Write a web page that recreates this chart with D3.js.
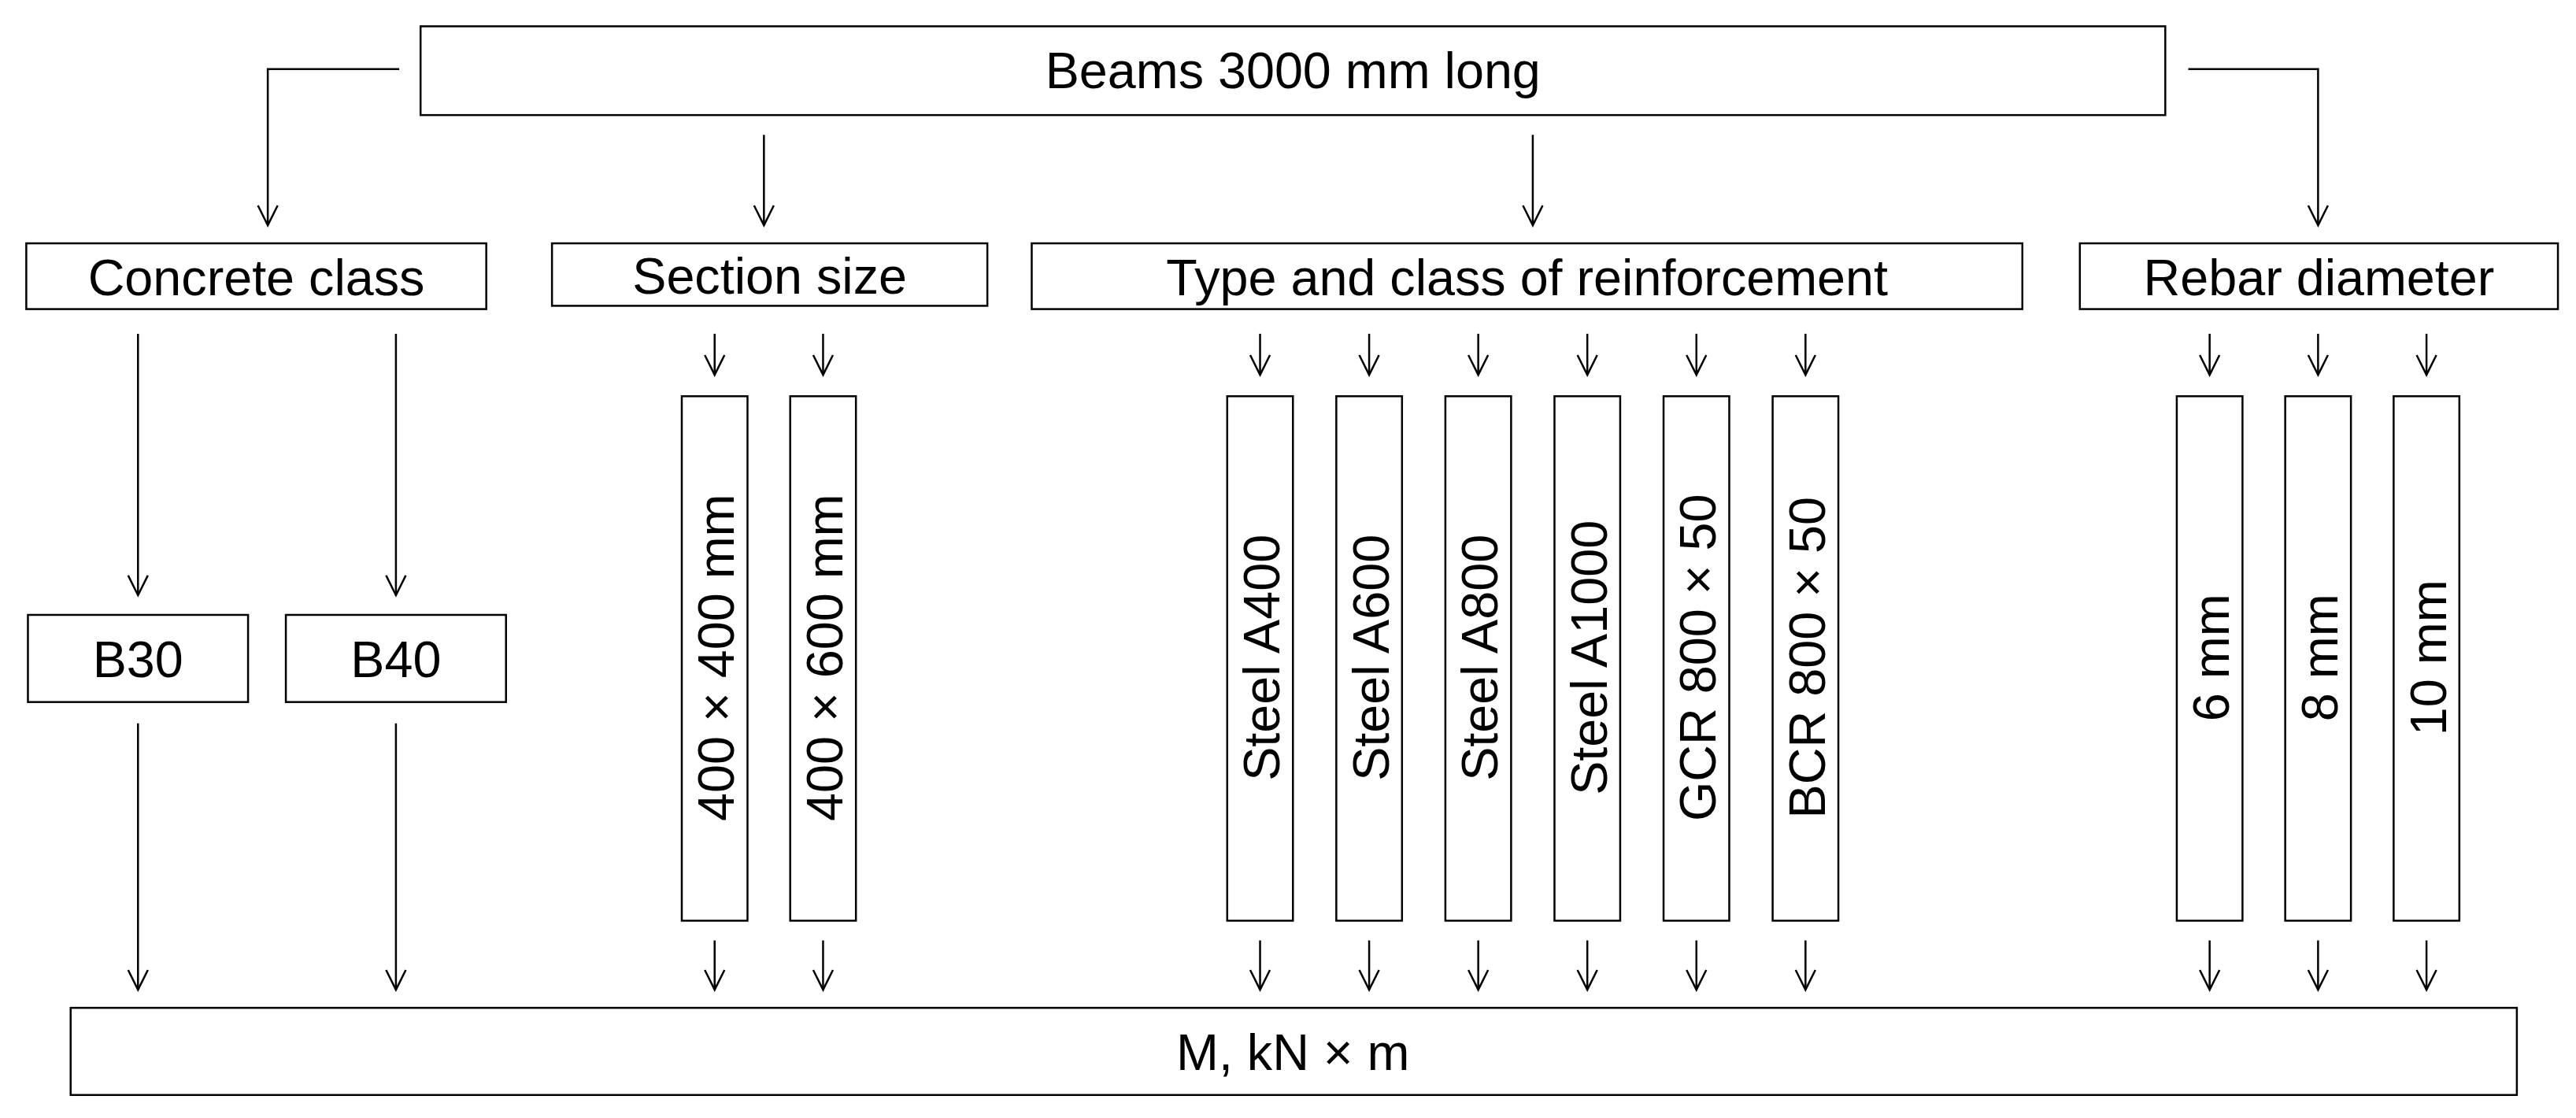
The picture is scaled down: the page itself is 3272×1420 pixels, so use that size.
<!DOCTYPE html>
<html><head><meta charset="utf-8">
<script src="https://cdn.jsdelivr.net/npm/d3@7"></script>
<style>body{margin:0;background:#fff}text{font-family:"Liberation Sans",Arial,sans-serif;fill:#000}</style>
</head><body><div id="chart"></div>
<script>
const title = 'Beams 3000 mm long';
const groups = ['Concrete class', 'Section size', 'Type and class of reinforcement', 'Rebar diameter'];
const concrete = ['B30', 'B40'];
const sections = ['400 × 400 mm', '400 × 600 mm'];
const reinforcement = ['Steel A400', 'Steel A600', 'Steel A800', 'Steel A1000', 'GCR 800 × 50', 'BCR 800 × 50'];
const diameters = ['6 mm', '8 mm', '10 mm'];
const result = 'M, kN × m';

// layout in reference units (1568 x 680), scaled to window
const W = 3272, H = 1420;
const sx = d3.scaleLinear().domain([0, 1568]).range([0, W]);
const sy = d3.scaleLinear().domain([0, 680]).range([0, H]);

const svg = d3.select('#chart').append('svg').attr('width', W).attr('height', H);
const g = svg.append('g').attr('transform', `scale(${W / 1568},${H / 680})`);

const groupBoxes = [[16, 296, 148, 188], [336, 601, 148, 186], [628, 1231, 148, 188], [1266, 1557, 148, 188]];
const concreteX = d3.scalePoint().domain(concrete).range([84, 241]);
const sectionX = d3.scalePoint().domain(sections).range([435, 501]);
const reinfX = d3.scalePoint().domain(reinforcement).range([767, 1099]);
const diaX = d3.scalePoint().domain(diameters).range([1345, 1477]);

function box(x0, x1, y0, y1) {
  g.append('rect').attr('x', x0).attr('y', y0).attr('width', x1 - x0).attr('height', y1 - y0)
    .attr('fill', '#fff').attr('stroke', '#000').attr('stroke-width', 1.2);
}
function label(t, x, y, size, rot) {
  const e = g.append('text').attr('text-anchor', 'middle').attr('dominant-baseline', 'central')
    .attr('font-size', size).text(t);
  if (rot) e.attr('transform', `translate(${x},${y}) rotate(-90)`);
  else e.attr('x', x).attr('y', y);
}
function path(pts) {
  g.append('path').attr('d', d3.line()(pts)).attr('fill', 'none').attr('stroke', '#000').attr('stroke-width', 1.2);
  const [x, y] = pts[pts.length - 1];
  g.append('path').attr('d', d3.line()([[x - 6, y - 12], [x, y], [x + 6, y - 12]]))
    .attr('fill', 'none').attr('stroke', '#000').attr('stroke-width', 1.2);
}

// top
box(256, 1318, 16, 70);
label(title, 787, 43, 31);
path([[243, 42], [163, 42], [163, 137]]);
path([[1332, 42], [1411, 42], [1411, 137]]);
path([[465, 82], [465, 137]]);
path([[933, 82], [933, 137]]);

groups.forEach((t, i) => {
  const b = groupBoxes[i];
  box(...b);
  label(t, (b[0] + b[1]) / 2, (b[2] + b[3]) / 2 + 1, 31);
});

// concrete
concrete.forEach(c => {
  const x = concreteX(c);
  path([[x, 203], [x, 362]]);
  box(x - 67, x + 67, 374, 427);
  label(c, x, 401, 31);
  path([[x, 440], [x, 602]]);
});

// vertical boxes
function column(list, scale) {
  list.forEach(t => {
    const x = scale(t);
    path([[x, 203], [x, 228]]);
    box(x - 20, x + 20, 241, 560);
    label(t, x + 1, 400, 31, true);
    path([[x, 572], [x, 602]]);
  });
}
column(sections, sectionX);
column(reinforcement, reinfX);
column(diameters, diaX);

// bottom
box(43, 1532, 613, 666);
label(result, 787, 640, 31);
</script></body></html>
